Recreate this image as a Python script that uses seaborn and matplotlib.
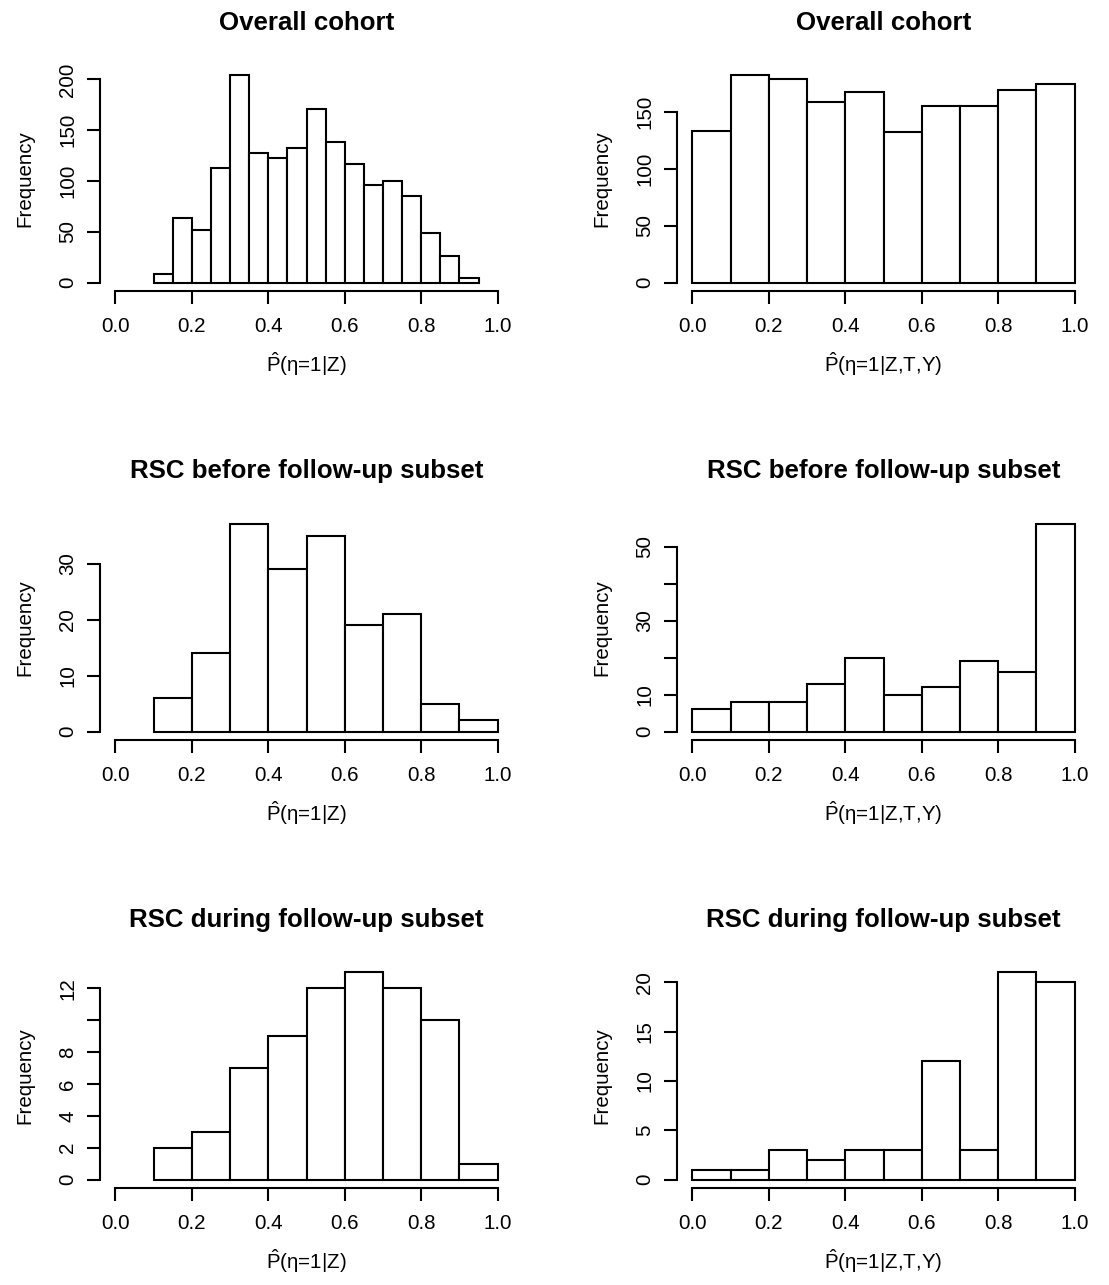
import numpy as np
import pandas as pd
import matplotlib
matplotlib.use("Agg")
import matplotlib.pyplot as plt
import seaborn as sns

# ---------------- data ----------------
titles = ["Overall cohort", "Overall cohort",
          "RSC before follow-up subset", "RSC before follow-up subset",
          "RSC during follow-up subset", "RSC during follow-up subset"]

# left column: P(eta=1|Z)
edges_overall_z = [0.10, 0.15, 0.20, 0.25, 0.30, 0.35, 0.40, 0.45, 0.50,
                   0.55, 0.60, 0.65, 0.70, 0.75, 0.80, 0.85, 0.90, 0.95]
counts_overall_z = [9, 64, 52, 113, 204, 128, 123, 132, 171,
                    138, 117, 96, 100, 85, 49, 26, 5]

edges_before_z = [0.1, 0.2, 0.3, 0.4, 0.5, 0.6, 0.7, 0.8, 0.9, 1.0]
counts_before_z = [6, 14, 37, 29, 35, 19, 21, 5, 2]

edges_during_z = [0.1, 0.2, 0.3, 0.4, 0.5, 0.6, 0.7, 0.8, 0.9, 1.0]
counts_during_z = [2, 3, 7, 9, 12, 13, 12, 10, 1]

# right column: P(eta=1|Z,T,Y)
edges_ztY = [0.0, 0.1, 0.2, 0.3, 0.4, 0.5, 0.6, 0.7, 0.8, 0.9, 1.0]
counts_overall_zty = [133, 182, 179, 159, 167, 132, 155, 155, 169, 174]
counts_before_zty = [6, 8, 8, 13, 20, 10, 12, 19, 16, 56]
counts_during_zty = [1, 1, 3, 2, 3, 3, 12, 3, 21, 20]

# axis ticks / labels
x_ticks = [0.0, 0.2, 0.4, 0.6, 0.8, 1.0]
x_ticklabels = ["0.0", "0.2", "0.4", "0.6", "0.8", "1.0"]

yticks_overall_z = [0, 50, 100, 150, 200]
yticklabels_overall_z = ["0", "50", "100", "150", "200"]
yticks_overall_zty = [0, 50, 100, 150]
yticklabels_overall_zty = ["0", "50", "100", "150"]
yticks_before_z = [0, 10, 20, 30]
yticklabels_before_z = ["0", "10", "20", "30"]
yticks_before_zty = [0, 10, 20, 30, 40, 50]
yticklabels_before_zty = ["0", "10", "", "30", "", "50"]
yticks_during_z = [0, 2, 4, 6, 8, 10, 12]
yticklabels_during_z = ["0", "2", "4", "6", "8", "", "12"]
yticks_during_zty = [0, 5, 10, 15, 20]
yticklabels_during_zty = ["0", "5", "10", "15", "20"]

xlabel_z = r"$\hat{\mathrm{P}}$(η=1|Z)"
xlabel_zty = r"$\hat{\mathrm{P}}$(η=1|Z,T,Y)"
ylabel = "Frequency"

panels = [
    (edges_overall_z, counts_overall_z, yticks_overall_z, yticklabels_overall_z, xlabel_z),
    (edges_ztY, counts_overall_zty, yticks_overall_zty, yticklabels_overall_zty, xlabel_zty),
    (edges_before_z, counts_before_z, yticks_before_z, yticklabels_before_z, xlabel_z),
    (edges_ztY, counts_before_zty, yticks_before_zty, yticklabels_before_zty, xlabel_zty),
    (edges_during_z, counts_during_z, yticks_during_z, yticklabels_during_z, xlabel_z),
    (edges_ztY, counts_during_zty, yticks_during_zty, yticklabels_during_zty, xlabel_zty),
]

# ---------------- style ----------------
sns.set_theme(style="white")
plt.rcParams["font.family"] = ["Liberation Sans", "DejaVu Sans"]
plt.rcParams["mathtext.fontset"] = "custom"
plt.rcParams["mathtext.rm"] = "Liberation Sans"
plt.rcParams["mathtext.it"] = "Liberation Sans"
plt.rcParams["mathtext.bf"] = "Liberation Sans:bold"
plt.rcParams["text.color"] = "black"
plt.rcParams["axes.labelcolor"] = "black"
plt.rcParams["xtick.color"] = "black"
plt.rcParams["ytick.color"] = "black"

W, H = 1109, 1285
fig = plt.figure(figsize=(W / 100, H / 100), dpi=100)

col_left_px = [100, 677]
row_top_px = [67, 516, 964]
ax_w_px, ax_h_px = 413, 224

LW = 1.5
FS = 14.8
for i, (edges, counts, yt, ytl, xl) in enumerate(panels):
    r, c = divmod(i, 2)
    left = col_left_px[c] / W
    bottom = 1 - (row_top_px[r] + ax_h_px) / H
    ax = fig.add_axes([left, bottom, ax_w_px / W, ax_h_px / H])

    edges_l = list(edges)
    mids = [(a + b) / 2 for a, b in zip(edges_l[:-1], edges_l[1:])]
    df = pd.DataFrame({"x": mids, "w": counts})
    sns.histplot(data=df, x="x", weights="w", bins=edges_l, ax=ax,
                 color="white", edgecolor="black", linewidth=LW, alpha=1)

    ymax = max(counts)
    ax.set_xlim(-0.04, 1.04)
    ax.set_ylim(-0.04 * ymax, 1.04 * ymax)

    for s in ["top", "right"]:
        ax.spines[s].set_visible(False)
    for s in ["left", "bottom"]:
        ax.spines[s].set_linewidth(LW)
        ax.spines[s].set_color("black")
    ax.spines["bottom"].set_bounds(0, 1)
    ax.spines["left"].set_bounds(yt[0], yt[-1])

    ax.set_xticks(x_ticks)
    ax.set_xticklabels(x_ticklabels)
    ax.set_yticks(yt)
    ax.set_yticklabels(ytl, rotation=90, va="center")
    ax.tick_params(axis="both", which="major", direction="out", length=9.4,
                   width=LW, labelsize=FS, bottom=True, left=True)
    ax.tick_params(axis="x", pad=9)
    ax.tick_params(axis="y", pad=7)

    ax.set_xlabel(xl, fontsize=FS, labelpad=11)
    ax.set_ylabel(ylabel, fontsize=FS, labelpad=17)
    ax.set_title(titles[i], fontsize=18.6, fontweight="bold", pad=27)
    ax.grid(False)

fig.savefig("out.png", dpi=100, facecolor="white")
